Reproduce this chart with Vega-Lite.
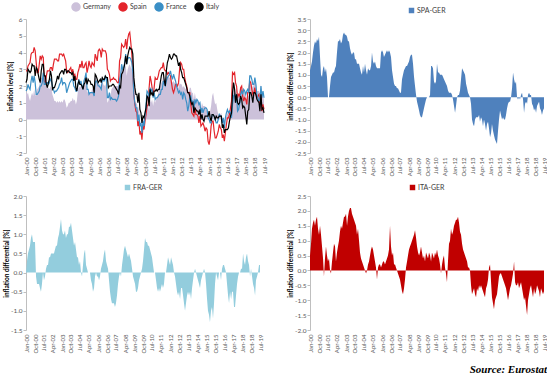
{
"$schema":"https://vega.github.io/schema/vega-lite/v6.json",
"background":"white",
"padding":{"left":3,"top":2,"right":2,"bottom":2},
"title":{"text":"Source: Eurostat","orient":"bottom","anchor":"end","font":"Liberation Serif","fontSize":11,"fontWeight":"bold","fontStyle":"italic","color":"#000000","offset":8},
"columns":2,
"spacing":{"row":5,"column":20},
"resolve":{"scale":{"color":"independent","x":"independent","y":"independent"},"legend":{"color":"independent"}},
"datasets":{"m":[
{"d":"2000-01","g":1.7,"s":2.9,"f":1.7,"i":2.2,"sg":1.2,"fg":0,"ig":0.5},
{"d":"2000-02","g":1.5,"s":2.9,"f":1.8,"i":2.4,"sg":1.4,"fg":0.3,"ig":0.9},
{"d":"2000-03","g":1.6,"s":3.2,"f":2.1,"i":3.0,"sg":1.6,"fg":0.5,"ig":1.4},
{"d":"2000-04","g":1.3,"s":3.3,"f":1.9,"i":2.9,"sg":2.0,"fg":0.6,"ig":1.6},
{"d":"2000-05","g":1.1,"s":3.4,"f":1.8,"i":2.8,"sg":2.3,"fg":0.7,"ig":1.7},
{"d":"2000-06","g":1.4,"s":3.9,"f":2.3,"i":2.9,"sg":2.5,"fg":0.9,"ig":1.5},
{"d":"2000-07","g":1.6,"s":4.0,"f":2.6,"i":3.3,"sg":2.4,"fg":1.0,"ig":1.7},
{"d":"2000-08","g":1.4,"s":4.0,"f":2.2,"i":3.2,"sg":2.6,"fg":0.8,"ig":1.8},
{"d":"2000-09","g":1.8,"s":4.3,"f":2.6,"i":3.2,"sg":2.5,"fg":0.8,"ig":1.4},
{"d":"2000-10","g":1.4,"s":4.1,"f":2.2,"i":2.6,"sg":2.7,"fg":0.8,"ig":1.2},
{"d":"2000-11","g":1.6,"s":3.4,"f":1.5,"i":3.1,"sg":1.8,"fg":-0.1,"ig":1.5},
{"d":"2000-12","g":1.8,"s":2.8,"f":1.5,"i":3.0,"sg":1.0,"fg":-0.3,"ig":1.2},
{"d":"2001-01","g":1.9,"s":2.8,"f":1.6,"i":2.7,"sg":0.9,"fg":-0.3,"ig":0.8},
{"d":"2001-02","g":2.0,"s":3.3,"f":1.7,"i":2.4,"sg":1.3,"fg":-0.3,"ig":0.4},
{"d":"2001-03","g":2.4,"s":3.8,"f":2.0,"i":2.2,"sg":1.4,"fg":-0.4,"ig":-0.2},
{"d":"2001-04","g":2.5,"s":3.6,"f":2.0,"i":2.9,"sg":1.1,"fg":-0.5,"ig":0.4},
{"d":"2001-05","g":2.5,"s":3.8,"f":2.2,"i":3.3,"sg":1.3,"fg":-0.3,"ig":0.8},
{"d":"2001-06","g":2.8,"s":3.7,"f":2.8,"i":3.3,"sg":0.9,"fg":0,"ig":0.5},
{"d":"2001-07","g":2.3,"s":2.3,"f":2.1,"i":2.6,"sg":0,"fg":-0.2,"ig":0.3},
{"d":"2001-08","g":2.2,"s":2.2,"f":2.1,"i":2.6,"sg":0,"fg":-0.1,"ig":0.4},
{"d":"2001-09","g":2.1,"s":2.6,"f":2.2,"i":2.1,"sg":0.5,"fg":0.1,"ig":0},
{"d":"2001-10","g":2.0,"s":2.9,"f":2.2,"i":1.9,"sg":0.9,"fg":0.2,"ig":-0.1},
{"d":"2001-11","g":1.9,"s":2.9,"f":2.1,"i":2.2,"sg":1.0,"fg":0.2,"ig":0.3},
{"d":"2001-12","g":1.8,"s":2.9,"f":2.2,"i":2.4,"sg":1.1,"fg":0.4,"ig":0.6},
{"d":"2002-01","g":2.0,"s":3.1,"f":2.4,"i":2.9,"sg":1.1,"fg":0.4,"ig":0.9},
{"d":"2002-02","g":1.8,"s":3.1,"f":2.3,"i":2.6,"sg":1.3,"fg":0.5,"ig":0.8},
{"d":"2002-03","g":1.5,"s":2.9,"f":2.0,"i":1.8,"sg":1.4,"fg":0.5,"ig":0.3},
{"d":"2002-04","g":1.3,"s":3.3,"f":1.8,"i":1.9,"sg":2.0,"fg":0.5,"ig":0.6},
{"d":"2002-05","g":1.1,"s":3.6,"f":1.6,"i":1.9,"sg":2.5,"fg":0.5,"ig":0.8},
{"d":"2002-06","g":1.1,"s":3.6,"f":1.7,"i":2.1,"sg":2.5,"fg":0.6,"ig":1.0},
{"d":"2002-07","g":1.0,"s":3.6,"f":1.7,"i":2.3,"sg":2.6,"fg":0.7,"ig":1.3},
{"d":"2002-08","g":1.1,"s":3.5,"f":1.8,"i":2.6,"sg":2.4,"fg":0.7,"ig":1.5},
{"d":"2002-09","g":1.0,"s":3.5,"f":1.9,"i":2.4,"sg":2.5,"fg":0.9,"ig":1.4},
{"d":"2002-10","g":1.1,"s":3.9,"f":2.1,"i":2.7,"sg":2.8,"fg":1.0,"ig":1.6},
{"d":"2002-11","g":1.0,"s":3.9,"f":2.2,"i":2.8,"sg":2.9,"fg":1.2,"ig":1.8},
{"d":"2002-12","g":1.1,"s":3.9,"f":2.5,"i":2.9,"sg":2.8,"fg":1.4,"ig":1.8},
{"d":"2003-01","g":1.0,"s":3.8,"f":2.1,"i":2.9,"sg":2.8,"fg":1.1,"ig":1.9},
{"d":"2003-02","g":1.2,"s":3.9,"f":2.2,"i":2.7,"sg":2.7,"fg":1.0,"ig":1.5},
{"d":"2003-03","g":1.2,"s":3.7,"f":2.2,"i":3.0,"sg":2.5,"fg":1.0,"ig":1.8},
{"d":"2003-04","g":1.0,"s":3.5,"f":2.1,"i":3.0,"sg":2.5,"fg":1.1,"ig":2.0},
{"d":"2003-05","g":0.7,"s":2.9,"f":1.6,"i":2.8,"sg":2.2,"fg":0.9,"ig":2.1},
{"d":"2003-06","g":0.8,"s":2.8,"f":1.8,"i":2.9,"sg":2.0,"fg":1.0,"ig":2.1},
{"d":"2003-07","g":1.0,"s":2.9,"f":2.0,"i":2.9,"sg":1.9,"fg":1.0,"ig":1.9},
{"d":"2003-08","g":1.0,"s":3.0,"f":2.2,"i":2.8,"sg":2.0,"fg":1.2,"ig":1.8},
{"d":"2003-09","g":1.1,"s":3.1,"f":2.3,"i":2.8,"sg":2.0,"fg":1.2,"ig":1.7},
{"d":"2003-10","g":1.1,"s":2.8,"f":2.4,"i":2.7,"sg":1.7,"fg":1.3,"ig":1.6},
{"d":"2003-11","g":1.3,"s":3.0,"f":2.4,"i":2.8,"sg":1.7,"fg":1.1,"ig":1.5},
{"d":"2003-12","g":1.1,"s":2.6,"f":2.0,"i":2.3,"sg":1.5,"fg":0.9,"ig":1.2},
{"d":"2004-01","g":1.2,"s":2.7,"f":1.9,"i":2.6,"sg":1.5,"fg":0.7,"ig":1.4},
{"d":"2004-02","g":0.9,"s":2.4,"f":1.7,"i":1.9,"sg":1.5,"fg":0.8,"ig":1.0},
{"d":"2004-03","g":1.1,"s":2.4,"f":1.7,"i":1.7,"sg":1.3,"fg":0.6,"ig":0.6},
{"d":"2004-04","g":1.7,"s":2.8,"f":2.1,"i":2.1,"sg":1.1,"fg":0.4,"ig":0.4},
{"d":"2004-05","g":2.0,"s":3.0,"f":2.4,"i":2.3,"sg":1.0,"fg":0.4,"ig":0.3},
{"d":"2004-06","g":1.9,"s":3.3,"f":2.1,"i":2.1,"sg":1.4,"fg":0.2,"ig":0.2},
{"d":"2004-07","g":2.0,"s":3.1,"f":2.3,"i":2.1,"sg":1.1,"fg":0.3,"ig":0.1},
{"d":"2004-08","g":2.0,"s":3.5,"f":2.0,"i":2.0,"sg":1.5,"fg":0,"ig":0},
{"d":"2004-09","g":1.9,"s":3.1,"f":1.8,"i":1.8,"sg":1.2,"fg":-0.1,"ig":-0.1},
{"d":"2004-10","g":2.1,"s":3.1,"f":2.3,"i":2.1,"sg":1.0,"fg":0.2,"ig":0},
{"d":"2004-11","g":2.0,"s":3.3,"f":2.5,"i":2.2,"sg":1.3,"fg":0.5,"ig":0.2},
{"d":"2004-12","g":2.2,"s":3.4,"f":2.8,"i":2.5,"sg":1.2,"fg":0.6,"ig":0.3},
{"d":"2005-01","g":1.6,"s":2.8,"f":1.8,"i":2.1,"sg":1.2,"fg":0.2,"ig":0.5},
{"d":"2005-02","g":1.7,"s":3.1,"f":1.8,"i":2.4,"sg":1.4,"fg":0.1,"ig":0.7},
{"d":"2005-03","g":1.5,"s":3.5,"f":1.5,"i":2.3,"sg":2.0,"fg":0,"ig":0.8},
{"d":"2005-04","g":1.6,"s":3.2,"f":1.6,"i":2.3,"sg":1.6,"fg":0,"ig":0.7},
{"d":"2005-05","g":1.6,"s":3.1,"f":1.6,"i":2.1,"sg":1.5,"fg":0,"ig":0.5},
{"d":"2005-06","g":1.8,"s":3.4,"f":1.6,"i":2.1,"sg":1.6,"fg":-0.2,"ig":0.3},
{"d":"2005-07","g":1.9,"s":3.3,"f":1.6,"i":2.0,"sg":1.4,"fg":-0.3,"ig":0.1},
{"d":"2005-08","g":1.9,"s":3.2,"f":1.4,"i":1.6,"sg":1.3,"fg":-0.5,"ig":-0.3},
{"d":"2005-09","g":2.6,"s":3.9,"f":2.2,"i":2.7,"sg":1.3,"fg":-0.4,"ig":0.1},
{"d":"2005-10","g":2.4,"s":3.7,"f":2.3,"i":2.6,"sg":1.3,"fg":-0.1,"ig":0.2},
{"d":"2005-11","g":2.2,"s":3.5,"f":2.2,"i":2.4,"sg":1.3,"fg":0,"ig":0.2},
{"d":"2005-12","g":2.1,"s":4.1,"f":2.0,"i":2.2,"sg":2.0,"fg":-0.1,"ig":0.1},
{"d":"2006-01","g":2.1,"s":4.2,"f":2.0,"i":2.3,"sg":2.1,"fg":-0.1,"ig":0.2},
{"d":"2006-02","g":2.1,"s":4.1,"f":1.9,"i":2.4,"sg":2.0,"fg":-0.2,"ig":0.3},
{"d":"2006-03","g":1.9,"s":3.7,"f":1.8,"i":2.2,"sg":1.8,"fg":-0.1,"ig":0.3},
{"d":"2006-04","g":2.3,"s":4.2,"f":2.4,"i":2.5,"sg":1.9,"fg":0.1,"ig":0.2},
{"d":"2006-05","g":2.1,"s":4.1,"f":2.3,"i":2.4,"sg":2.0,"fg":0.2,"ig":0.3},
{"d":"2006-06","g":2.0,"s":4.1,"f":2.3,"i":2.4,"sg":2.1,"fg":0.3,"ig":0.4},
{"d":"2006-07","g":2.1,"s":4.1,"f":2.6,"i":2.6,"sg":2.0,"fg":0.5,"ig":0.5},
{"d":"2006-08","g":1.8,"s":3.9,"f":2.4,"i":2.5,"sg":2.1,"fg":0.6,"ig":0.7},
{"d":"2006-09","g":1.0,"s":3.0,"f":1.3,"i":2.5,"sg":2.0,"fg":0.3,"ig":1.5},
{"d":"2006-10","g":1.1,"s":2.9,"f":1.3,"i":1.9,"sg":1.8,"fg":0.2,"ig":0.8},
{"d":"2006-11","g":1.5,"s":2.7,"f":1.6,"i":2.0,"sg":1.2,"fg":0.1,"ig":0.5},
{"d":"2006-12","g":1.4,"s":2.3,"f":1.2,"i":2.0,"sg":0.9,"fg":-0.2,"ig":0.6},
{"d":"2007-01","g":1.8,"s":2.4,"f":1.3,"i":2.0,"sg":0.6,"fg":-0.5,"ig":0.2},
{"d":"2007-02","g":1.9,"s":2.4,"f":1.2,"i":2.1,"sg":0.5,"fg":-0.7,"ig":0.2},
{"d":"2007-03","g":2.0,"s":2.5,"f":1.2,"i":2.1,"sg":0.5,"fg":-0.8,"ig":0.1},
{"d":"2007-04","g":2.0,"s":2.4,"f":1.2,"i":2.0,"sg":0.4,"fg":-0.8,"ig":0},
{"d":"2007-05","g":2.0,"s":2.4,"f":1.2,"i":1.9,"sg":0.4,"fg":-0.8,"ig":-0.1},
{"d":"2007-06","g":2.0,"s":2.3,"f":1.1,"i":1.8,"sg":0.3,"fg":-0.9,"ig":-0.2},
{"d":"2007-07","g":2.0,"s":2.2,"f":1.2,"i":1.7,"sg":0.2,"fg":-0.8,"ig":-0.3},
{"d":"2007-08","g":2.0,"s":2.2,"f":1.4,"i":1.5,"sg":0.2,"fg":-0.6,"ig":-0.5},
{"d":"2007-09","g":2.7,"s":3.5,"f":2.4,"i":2.0,"sg":0.8,"fg":-0.3,"ig":-0.7},
{"d":"2007-10","g":2.7,"s":3.7,"f":2.6,"i":1.9,"sg":1.0,"fg":-0.1,"ig":-0.8},
{"d":"2007-11","g":3.3,"s":4.5,"f":3.3,"i":2.7,"sg":1.2,"fg":0,"ig":-0.6},
{"d":"2007-12","g":3.1,"s":4.4,"f":3.0,"i":2.8,"sg":1.3,"fg":-0.1,"ig":-0.3},
{"d":"2008-01","g":2.9,"s":4.3,"f":3.1,"i":3.0,"sg":1.4,"fg":0.2,"ig":0.1},
{"d":"2008-02","g":3.0,"s":4.4,"f":3.4,"i":3.3,"sg":1.4,"fg":0.4,"ig":0.3},
{"d":"2008-03","g":3.3,"s":4.8,"f":3.9,"i":3.8,"sg":1.5,"fg":0.6,"ig":0.5},
{"d":"2008-04","g":2.6,"s":4.2,"f":3.3,"i":3.3,"sg":1.6,"fg":0.7,"ig":0.7},
{"d":"2008-05","g":3.0,"s":4.8,"f":3.6,"i":3.8,"sg":1.8,"fg":0.6,"ig":0.8},
{"d":"2008-06","g":3.2,"s":5.1,"f":3.7,"i":4.1,"sg":1.9,"fg":0.5,"ig":0.9},
{"d":"2008-07","g":3.3,"s":5.2,"f":3.7,"i":4.3,"sg":1.9,"fg":0.4,"ig":1.0},
{"d":"2008-08","g":3.1,"s":4.6,"f":3.6,"i":4.2,"sg":1.5,"fg":0.5,"ig":1.1},
{"d":"2008-09","g":3.0,"s":3.9,"f":3.4,"i":4.2,"sg":0.9,"fg":0.4,"ig":1.2},
{"d":"2008-10","g":2.5,"s":3.0,"f":2.8,"i":3.9,"sg":0.5,"fg":0.3,"ig":1.35},
{"d":"2008-11","g":1.4,"s":1.5,"f":1.5,"i":2.5,"sg":0.1,"fg":0.1,"ig":1.1},
{"d":"2008-12","g":1.1,"s":0.9,"f":1.0,"i":1.9,"sg":-0.2,"fg":-0.1,"ig":0.8},
{"d":"2009-01","g":0.9,"s":0.5,"f":0.7,"i":1.5,"sg":-0.4,"fg":-0.2,"ig":0.6},
{"d":"2009-02","g":1.0,"s":0.4,"f":0.7,"i":1.5,"sg":-0.6,"fg":-0.3,"ig":0.5},
{"d":"2009-03","g":0.4,"s":-0.4,"f":-0.1,"i":1.0,"sg":-0.8,"fg":-0.5,"ig":0.6},
{"d":"2009-04","g":0.8,"s":-0.1,"f":0.3,"i":1.6,"sg":-0.9,"fg":-0.5,"ig":0.8},
{"d":"2009-05","g":0,"s":-0.9,"f":-0.4,"i":0.6,"sg":-0.9,"fg":-0.4,"ig":0.6},
{"d":"2009-06","g":0,"s":-0.7,"f":-0.2,"i":0.4,"sg":-0.7,"fg":-0.2,"ig":0.4},
{"d":"2009-07","g":-0.7,"s":-1.2,"f":-0.8,"i":-0.2,"sg":-0.5,"fg":-0.1,"ig":0.5},
{"d":"2009-08","g":-0.1,"s":-0.4,"f":-0.1,"i":0.2,"sg":-0.3,"fg":0,"ig":0.3},
{"d":"2009-09","g":-0.5,"s":-0.6,"f":-0.4,"i":0.1,"sg":-0.1,"fg":0.1,"ig":0.6},
{"d":"2009-10","g":-0.1,"s":-0.1,"f":0.2,"i":0.4,"sg":0,"fg":0.3,"ig":0.5},
{"d":"2009-11","g":0.3,"s":0.3,"f":0.9,"i":0.7,"sg":0,"fg":0.6,"ig":0.4},
{"d":"2009-12","g":0.8,"s":0.8,"f":1.7,"i":1.4,"sg":0,"fg":0.9,"ig":0.6},
{"d":"2010-01","g":0.8,"s":0.9,"f":1.6,"i":1.3,"sg":0.1,"fg":0.8,"ig":0.5},
{"d":"2010-02","g":0.5,"s":1.9,"f":1.3,"i":0.8,"sg":1.4,"fg":0.8,"ig":0.3},
{"d":"2010-03","g":1.2,"s":2.6,"f":1.9,"i":1.8,"sg":1.4,"fg":0.7,"ig":0.6},
{"d":"2010-04","g":1.0,"s":2.3,"f":1.7,"i":1.5,"sg":1.3,"fg":0.7,"ig":0.5},
{"d":"2010-05","g":1.2,"s":1.9,"f":1.8,"i":1.6,"sg":0.7,"fg":0.6,"ig":0.4},
{"d":"2010-06","g":0.8,"s":1.4,"f":1.3,"i":1.4,"sg":0.6,"fg":0.5,"ig":0.6},
{"d":"2010-07","g":1.2,"s":1.9,"f":1.6,"i":1.7,"sg":0.7,"fg":0.4,"ig":0.5},
{"d":"2010-08","g":1.0,"s":2.5,"f":1.2,"i":1.7,"sg":1.5,"fg":0.2,"ig":0.7},
{"d":"2010-09","g":1.3,"s":2.4,"f":1.3,"i":1.8,"sg":1.1,"fg":0,"ig":0.5},
{"d":"2010-10","g":1.3,"s":2.4,"f":1.3,"i":1.7,"sg":1.1,"fg":0,"ig":0.4},
{"d":"2010-11","g":1.6,"s":2.6,"f":1.4,"i":1.8,"sg":1.0,"fg":-0.2,"ig":0.2},
{"d":"2010-12","g":1.9,"s":2.9,"f":1.5,"i":1.8,"sg":1.0,"fg":-0.4,"ig":-0.1},
{"d":"2011-01","g":2.0,"s":3.0,"f":1.5,"i":2.2,"sg":1.0,"fg":-0.5,"ig":0.2},
{"d":"2011-02","g":2.2,"s":3.1,"f":1.8,"i":2.6,"sg":0.9,"fg":-0.4,"ig":0.4},
{"d":"2011-03","g":2.3,"s":3.1,"f":1.8,"i":2.8,"sg":0.8,"fg":-0.5,"ig":0.5},
{"d":"2011-04","g":2.7,"s":3.4,"f":2.3,"i":2.8,"sg":0.7,"fg":-0.4,"ig":0.1},
{"d":"2011-05","g":2.4,"s":3.0,"f":2.1,"i":2.3,"sg":0.6,"fg":-0.3,"ig":-0.1},
{"d":"2011-06","g":2.4,"s":2.9,"f":2.0,"i":2.0,"sg":0.5,"fg":-0.4,"ig":-0.4},
{"d":"2011-07","g":2.6,"s":2.9,"f":2.3,"i":2.9,"sg":0.3,"fg":-0.3,"ig":0.3},
{"d":"2011-08","g":2.5,"s":2.7,"f":2.5,"i":3.4,"sg":0.2,"fg":0,"ig":0.9},
{"d":"2011-09","g":2.6,"s":2.8,"f":2.6,"i":3.6,"sg":0.2,"fg":0,"ig":1.0},
{"d":"2011-10","g":2.5,"s":2.7,"f":2.7,"i":3.9,"sg":0.2,"fg":0.2,"ig":1.4},
{"d":"2011-11","g":2.5,"s":2.6,"f":2.9,"i":3.7,"sg":0.1,"fg":0.4,"ig":1.2},
{"d":"2011-12","g":2.3,"s":2.2,"f":2.6,"i":3.6,"sg":-0.1,"fg":0.3,"ig":1.3},
{"d":"2012-01","g":2.2,"s":1.8,"f":2.4,"i":3.7,"sg":-0.4,"fg":0.2,"ig":1.5},
{"d":"2012-02","g":2.3,"s":1.6,"f":2.7,"i":3.9,"sg":-0.7,"fg":0.4,"ig":1.6},
{"d":"2012-03","g":2.2,"s":1.8,"f":2.5,"i":3.9,"sg":-0.4,"fg":0.3,"ig":1.7},
{"d":"2012-04","g":2.1,"s":2.1,"f":2.3,"i":3.8,"sg":0,"fg":0.2,"ig":1.7},
{"d":"2012-05","g":2.0,"s":2.1,"f":2.0,"i":3.8,"sg":0.1,"fg":0,"ig":1.8},
{"d":"2012-06","g":1.9,"s":2.0,"f":1.8,"i":3.5,"sg":0.1,"fg":-0.1,"ig":1.6},
{"d":"2012-07","g":1.9,"s":2.2,"f":1.6,"i":3.2,"sg":0.3,"fg":-0.3,"ig":1.3},
{"d":"2012-08","g":2.2,"s":3.0,"f":1.7,"i":3.4,"sg":0.8,"fg":-0.5,"ig":1.2},
{"d":"2012-09","g":2.1,"s":3.4,"f":1.5,"i":3.0,"sg":1.3,"fg":-0.6,"ig":0.9},
{"d":"2012-10","g":2.1,"s":3.3,"f":1.6,"i":2.8,"sg":1.2,"fg":-0.5,"ig":0.7},
{"d":"2012-11","g":1.9,"s":3.0,"f":1.2,"i":2.5,"sg":1.1,"fg":-0.7,"ig":0.6},
{"d":"2012-12","g":2.0,"s":3.0,"f":1.6,"i":2.5,"sg":1.0,"fg":-0.4,"ig":0.5},
{"d":"2013-01","g":1.9,"s":2.5,"f":1.5,"i":2.3,"sg":0.6,"fg":-0.4,"ig":0.4},
{"d":"2013-02","g":1.8,"s":2.2,"f":1.2,"i":2.1,"sg":0.4,"fg":-0.6,"ig":0.3},
{"d":"2013-03","g":1.8,"s":2.0,"f":1.0,"i":1.9,"sg":0.2,"fg":-0.8,"ig":0.1},
{"d":"2013-04","g":1.5,"s":1.6,"f":0.5,"i":1.6,"sg":0.1,"fg":-1.0,"ig":0.1},
{"d":"2013-05","g":1.6,"s":1.6,"f":0.8,"i":1.6,"sg":0,"fg":-0.8,"ig":0},
{"d":"2013-06","g":1.9,"s":1.6,"f":1.3,"i":1.4,"sg":-0.3,"fg":-0.6,"ig":-0.5},
{"d":"2013-07","g":1.9,"s":0.9,"f":1.4,"i":1.1,"sg":-1.0,"fg":-0.5,"ig":-0.8},
{"d":"2013-08","g":1.6,"s":0.4,"f":1.0,"i":0.9,"sg":-1.2,"fg":-0.6,"ig":-0.7},
{"d":"2013-09","g":1.6,"s":0.3,"f":1.1,"i":1.0,"sg":-1.3,"fg":-0.5,"ig":-0.6},
{"d":"2013-10","g":1.2,"s":0.2,"f":0.5,"i":0.4,"sg":-1.0,"fg":-0.7,"ig":-0.8},
{"d":"2013-11","g":1.6,"s":0.7,"f":1.2,"i":0.7,"sg":-0.9,"fg":-0.4,"ig":-0.9},
{"d":"2013-12","g":1.2,"s":0.3,"f":1.0,"i":0.6,"sg":-0.9,"fg":-0.2,"ig":-0.6},
{"d":"2014-01","g":1.2,"s":0.3,"f":1.2,"i":0.5,"sg":-0.9,"fg":0,"ig":-0.7},
{"d":"2014-02","g":1.0,"s":0.2,"f":1.1,"i":0.5,"sg":-0.8,"fg":0.1,"ig":-0.5},
{"d":"2014-03","g":0.9,"s":-0.2,"f":0.9,"i":0.3,"sg":-1.1,"fg":0,"ig":-0.6},
{"d":"2014-04","g":1.1,"s":0.2,"f":1.0,"i":0.6,"sg":-0.9,"fg":-0.1,"ig":-0.5},
{"d":"2014-05","g":0.6,"s":-0.4,"f":0.4,"i":0,"sg":-1.0,"fg":-0.2,"ig":-0.6},
{"d":"2014-06","g":1.0,"s":-0.3,"f":0.7,"i":0.3,"sg":-1.3,"fg":-0.3,"ig":-0.7},
{"d":"2014-07","g":0.8,"s":-0.2,"f":0.4,"i":0,"sg":-1.0,"fg":-0.4,"ig":-0.8},
{"d":"2014-08","g":0.8,"s":-0.4,"f":0.6,"i":-0.1,"sg":-1.2,"fg":-0.2,"ig":-0.9},
{"d":"2014-09","g":0.8,"s":-0.7,"f":0.7,"i":0.2,"sg":-1.5,"fg":-0.1,"ig":-0.6},
{"d":"2014-10","g":0.7,"s":-0.5,"f":0.7,"i":0.2,"sg":-1.2,"fg":0,"ig":-0.5},
{"d":"2014-11","g":0.5,"s":-0.6,"f":0.6,"i":0.2,"sg":-1.1,"fg":0.1,"ig":-0.3},
{"d":"2014-12","g":0.1,"s":-1.3,"f":0.1,"i":0.2,"sg":-1.4,"fg":0,"ig":0.1},
{"d":"2015-01","g":0.3,"s":-1.5,"f":0,"i":0.5,"sg":-1.8,"fg":-0.3,"ig":0.2},
{"d":"2015-02","g":0.5,"s":-1.1,"f":-0.2,"i":0.1,"sg":-1.6,"fg":-0.7,"ig":-0.4},
{"d":"2015-03","g":0.8,"s":-0.4,"f":-0.2,"i":-0.1,"sg":-1.2,"fg":-1.0,"ig":-0.9},
{"d":"2015-04","g":1.4,"s":-0.1,"f":0.3,"i":0.3,"sg":-1.5,"fg":-1.1,"ig":-1.1},
{"d":"2015-05","g":1.6,"s":-0.1,"f":0.3,"i":0.3,"sg":-1.7,"fg":-1.3,"ig":-1.3},
{"d":"2015-06","g":1.2,"s":-0.7,"f":0.2,"i":0.2,"sg":-1.9,"fg":-1.0,"ig":-1.0},
{"d":"2015-07","g":0.9,"s":-1.1,"f":0,"i":0,"sg":-2.0,"fg":-0.9,"ig":-0.9},
{"d":"2015-08","g":1.0,"s":-1.1,"f":-0.2,"i":0.2,"sg":-2.1,"fg":-1.2,"ig":-0.8},
{"d":"2015-09","g":0.6,"s":-0.9,"f":-0.2,"i":0.1,"sg":-1.5,"fg":-0.8,"ig":-0.5},
{"d":"2015-10","g":0.3,"s":-0.7,"f":0,"i":0.1,"sg":-1.0,"fg":-0.3,"ig":-0.2},
{"d":"2015-11","g":0.3,"s":-0.3,"f":0.3,"i":0.2,"sg":-0.6,"fg":0,"ig":-0.1},
{"d":"2015-12","g":0.3,"s":-0.5,"f":0.2,"i":0.2,"sg":-0.8,"fg":-0.1,"ig":-0.1},
{"d":"2016-01","g":0.4,"s":-0.6,"f":0.2,"i":0.2,"sg":-1.0,"fg":-0.2,"ig":-0.2},
{"d":"2016-02","g":-0.2,"s":-1.1,"f":-0.2,"i":-0.5,"sg":-0.9,"fg":0,"ig":-0.3},
{"d":"2016-03","g":0.1,"s":-0.9,"f":0.1,"i":-0.3,"sg":-1.0,"fg":0,"ig":-0.4},
{"d":"2016-04","g":-0.3,"s":-1.3,"f":-0.5,"i":-0.8,"sg":-1.0,"fg":-0.2,"ig":-0.5},
{"d":"2016-05","g":0,"s":-0.8,"f":0.1,"i":-0.6,"sg":-0.8,"fg":0.1,"ig":-0.6},
{"d":"2016-06","g":0.2,"s":-0.3,"f":0.4,"i":-0.6,"sg":-0.5,"fg":0.2,"ig":-0.8},
{"d":"2016-07","g":0.4,"s":0.1,"f":0.6,"i":-0.6,"sg":-0.3,"fg":0.2,"ig":-1.0},
{"d":"2016-08","g":0.3,"s":0.1,"f":0.4,"i":-0.5,"sg":-0.2,"fg":0.1,"ig":-0.8},
{"d":"2016-09","g":0.5,"s":0.3,"f":0.5,"i":-0.1,"sg":-0.2,"fg":0,"ig":-0.6},
{"d":"2016-10","g":0.7,"s":0.7,"f":0.4,"i":0.2,"sg":0,"fg":-0.3,"ig":-0.5},
{"d":"2016-11","g":0.7,"s":1.1,"f":0.1,"i":0.4,"sg":0.4,"fg":-0.6,"ig":-0.3},
{"d":"2016-12","g":1.7,"s":2.8,"f":0.9,"i":1.6,"sg":1.1,"fg":-0.8,"ig":-0.1},
{"d":"2017-01","g":1.9,"s":2.7,"f":1.4,"i":2.2,"sg":0.8,"fg":-0.5,"ig":0.3},
{"d":"2017-02","g":2.2,"s":2.8,"f":1.5,"i":1.8,"sg":0.6,"fg":-0.7,"ig":-0.4},
{"d":"2017-03","g":1.5,"s":2.2,"f":1.0,"i":1.0,"sg":0.7,"fg":-0.5,"ig":-0.5},
{"d":"2017-04","g":2.0,"s":2.0,"f":1.5,"i":1.5,"sg":0,"fg":-0.5,"ig":-0.5},
{"d":"2017-05","g":1.4,"s":1.3,"f":0.5,"i":1.0,"sg":-0.1,"fg":-0.9,"ig":-0.4},
{"d":"2017-06","g":1.5,"s":1.5,"f":0.6,"i":0.9,"sg":0,"fg":-0.9,"ig":-0.6},
{"d":"2017-07","g":1.5,"s":1.4,"f":0.9,"i":1.0,"sg":-0.1,"fg":-0.6,"ig":-0.5},
{"d":"2017-08","g":1.8,"s":1.9,"f":1.5,"i":1.4,"sg":0.1,"fg":-0.3,"ig":-0.4},
{"d":"2017-09","g":1.8,"s":2.0,"f":1.7,"i":1.2,"sg":0.2,"fg":-0.1,"ig":-0.6},
{"d":"2017-10","g":1.5,"s":1.4,"f":1.5,"i":0.7,"sg":-0.1,"fg":0,"ig":-0.8},
{"d":"2017-11","g":1.8,"s":1.1,"f":1.8,"i":0.8,"sg":-0.7,"fg":0,"ig":-1.0},
{"d":"2017-12","g":1.6,"s":1.3,"f":1.7,"i":0.7,"sg":-0.3,"fg":0.1,"ig":-0.9},
{"d":"2018-01","g":1.4,"s":1.2,"f":1.5,"i":0.2,"sg":-0.2,"fg":0.1,"ig":-1.2},
{"d":"2018-02","g":1.2,"s":0.9,"f":1.7,"i":-0.3,"sg":-0.3,"fg":0.5,"ig":-1.5},
{"d":"2018-03","g":1.5,"s":1.6,"f":1.8,"i":0.5,"sg":0.1,"fg":0.3,"ig":-1.0},
{"d":"2018-04","g":1.4,"s":1.6,"f":1.6,"i":0.6,"sg":0.2,"fg":0.2,"ig":-0.8},
{"d":"2018-05","g":2.2,"s":2.3,"f":2.6,"i":1.6,"sg":0.1,"fg":0.4,"ig":-0.6},
{"d":"2018-06","g":2.1,"s":2.2,"f":2.6,"i":1.6,"sg":0.1,"fg":0.5,"ig":-0.5},
{"d":"2018-07","g":2.1,"s":1.8,"f":2.4,"i":1.4,"sg":-0.3,"fg":0.3,"ig":-0.7},
{"d":"2018-08","g":1.9,"s":1.5,"f":2.1,"i":1.0,"sg":-0.4,"fg":0.2,"ig":-0.9},
{"d":"2018-09","g":2.2,"s":1.6,"f":2.1,"i":1.6,"sg":-0.6,"fg":-0.1,"ig":-0.6},
{"d":"2018-10","g":2.4,"s":1.9,"f":2.5,"i":1.6,"sg":-0.5,"fg":0.1,"ig":-0.8},
{"d":"2018-11","g":2.2,"s":1.5,"f":2.1,"i":1.5,"sg":-0.7,"fg":-0.1,"ig":-0.7},
{"d":"2018-12","g":1.7,"s":1.3,"f":1.4,"i":1.2,"sg":-0.4,"fg":-0.3,"ig":-0.5},
{"d":"2019-01","g":1.7,"s":1.4,"f":1.3,"i":1.1,"sg":-0.3,"fg":-0.4,"ig":-0.6},
{"d":"2019-02","g":1.7,"s":1.5,"f":1.1,"i":1.0,"sg":-0.2,"fg":-0.6,"ig":-0.7},
{"d":"2019-03","g":1.4,"s":0.9,"f":1.2,"i":0.5,"sg":-0.5,"fg":-0.2,"ig":-0.9},
{"d":"2019-04","g":2.1,"s":1.5,"f":2.0,"i":1.5,"sg":-0.6,"fg":-0.1,"ig":-0.6},
{"d":"2019-05","g":1.3,"s":0.5,"f":1.3,"i":0.6,"sg":-0.8,"fg":0,"ig":-0.7},
{"d":"2019-06","g":1.5,"s":0.9,"f":1.7,"i":0.7,"sg":-0.6,"fg":0.2,"ig":-0.8},
{"d":"2019-07","g":1.1,"s":0.6,"f":1.3,"i":0.4,"sg":-0.5,"fg":0.2,"ig":-0.7}
]},
"concat":[
{"width":238,"height":134,"data":{"name":"m"},
 "encoding":{"x":{"field":"d","type":"temporal","scale":{"type":"utc","domain":[{"year":2000,"month":1,"date":1,"utc":true},{"year":2019,"month":7,"date":1,"utc":true}]},
  "axis":{"title":null,"labelExpr":"utcFormat(datum.value, '%b-%y')","labelFlush":false,"labelOverlap":false,"values":[{"year":2000,"month":1,"utc":true},{"year":2000,"month":10,"utc":true},{"year":2001,"month":7,"utc":true},{"year":2002,"month":4,"utc":true},{"year":2003,"month":1,"utc":true},{"year":2003,"month":10,"utc":true},{"year":2004,"month":7,"utc":true},{"year":2005,"month":4,"utc":true},{"year":2006,"month":1,"utc":true},{"year":2006,"month":10,"utc":true},{"year":2007,"month":7,"utc":true},{"year":2008,"month":4,"utc":true},{"year":2009,"month":1,"utc":true},{"year":2009,"month":10,"utc":true},{"year":2010,"month":7,"utc":true},{"year":2011,"month":4,"utc":true},{"year":2012,"month":1,"utc":true},{"year":2012,"month":10,"utc":true},{"year":2013,"month":7,"utc":true},{"year":2014,"month":4,"utc":true},{"year":2015,"month":1,"utc":true},{"year":2015,"month":10,"utc":true},{"year":2016,"month":7,"utc":true},{"year":2017,"month":4,"utc":true},{"year":2018,"month":1,"utc":true},{"year":2018,"month":10,"utc":true},{"year":2019,"month":7,"utc":true}]}}},
 "layer":[
  {"mark":{"type":"area","opacity":1},"encoding":{
    "y":{"field":"g","type":"quantitative","stack":null,"scale":{"domain":[-2,6],"nice":false,"zero":false},"axis":{"title":"inflation level [%]","tickCount":8,"format":"d","labelExpr":"replace(datum.label, '−', '-')","labelOverlap":false,"labelBound":false,"minExtent":11,"maxExtent":11}},
    "color":{"datum":"Germany","scale":{"domain":["Germany","Spain","France","Italy"],"range":["#ccc1da","#e3242b","#3a8fc6","#000000"]},
      "legend":{"symbolSize":64,"columnPadding":5,"labelOffset":2,"encode":{"symbols":{"update":{"shape":{"signal":"datum.value === 'Germany' ? 'square' : 'stroke'"},"fill":{"signal":"datum.value === 'Germany' ? '#ccc1da' : 'transparent'"},"stroke":{"signal":"datum.value === 'Germany' ? 'transparent' : datum.value === 'Spain' ? '#e3242b' : datum.value === 'France' ? '#3a8fc6' : '#000000'"},"size":{"signal":"datum.value === 'Germany' ? 36 : 100"},"strokeWidth":{"value":1.6},"opacity":{"value":1}}}}}}}},
  {"mark":{"type":"rule","color":"#d0d0d0","strokeWidth":1},"encoding":{"y":{"datum":0}}},
  {"mark":{"type":"line","strokeWidth":1.2},"encoding":{"y":{"field":"s","type":"quantitative"},"color":{"datum":"Spain"}}},
  {"mark":{"type":"line","strokeWidth":1.2},"encoding":{"y":{"field":"f","type":"quantitative"},"color":{"datum":"France"}}},
  {"mark":{"type":"line","strokeWidth":1.2},"encoding":{"y":{"field":"i","type":"quantitative"},"color":{"datum":"Italy"}}}
 ]},
{"width":234,"height":134,"data":{"name":"m"},
 "encoding":{"x":{"field":"d","type":"temporal","scale":{"type":"utc","domain":[{"year":2000,"month":1,"date":1,"utc":true},{"year":2019,"month":7,"date":1,"utc":true}]},
  "axis":{"title":null,"labelExpr":"utcFormat(datum.value, '%b-%y')","labelFlush":false,"labelOverlap":false,"values":[{"year":2000,"month":1,"utc":true},{"year":2000,"month":10,"utc":true},{"year":2001,"month":7,"utc":true},{"year":2002,"month":4,"utc":true},{"year":2003,"month":1,"utc":true},{"year":2003,"month":10,"utc":true},{"year":2004,"month":7,"utc":true},{"year":2005,"month":4,"utc":true},{"year":2006,"month":1,"utc":true},{"year":2006,"month":10,"utc":true},{"year":2007,"month":7,"utc":true},{"year":2008,"month":4,"utc":true},{"year":2009,"month":1,"utc":true},{"year":2009,"month":10,"utc":true},{"year":2010,"month":7,"utc":true},{"year":2011,"month":4,"utc":true},{"year":2012,"month":1,"utc":true},{"year":2012,"month":10,"utc":true},{"year":2013,"month":7,"utc":true},{"year":2014,"month":4,"utc":true},{"year":2015,"month":1,"utc":true},{"year":2015,"month":10,"utc":true},{"year":2016,"month":7,"utc":true},{"year":2017,"month":4,"utc":true},{"year":2018,"month":1,"utc":true},{"year":2018,"month":10,"utc":true},{"year":2019,"month":7,"utc":true}]}}},
 "layer":[
  {"mark":{"type":"area","opacity":1},"encoding":{
    "y":{"field":"sg","type":"quantitative","stack":null,"scale":{"domain":[-2.5,3.5],"nice":false,"zero":false},"axis":{"title":"inflation differential [%]","tickCount":12,"format":".1f","labelExpr":"replace(datum.label, '−', '-')","labelOverlap":false,"labelBound":false,"minExtent":15,"maxExtent":15}},
    "color":{"datum":"SPA-GER","scale":{"range":["#4f81bd"]},"legend":{"symbolType":"square","symbolSize":30,"labelOffset":2}}}},
  {"mark":{"type":"rule","color":"#d0d0d0","strokeWidth":1},"encoding":{"y":{"datum":0}}}
 ]},
{"width":234,"height":134,"data":{"name":"m"},
 "encoding":{"x":{"field":"d","type":"temporal","scale":{"type":"utc","domain":[{"year":2000,"month":1,"date":1,"utc":true},{"year":2019,"month":7,"date":1,"utc":true}]},
  "axis":{"title":null,"labelExpr":"utcFormat(datum.value, '%b-%y')","labelFlush":false,"labelOverlap":false,"values":[{"year":2000,"month":1,"utc":true},{"year":2000,"month":10,"utc":true},{"year":2001,"month":7,"utc":true},{"year":2002,"month":4,"utc":true},{"year":2003,"month":1,"utc":true},{"year":2003,"month":10,"utc":true},{"year":2004,"month":7,"utc":true},{"year":2005,"month":4,"utc":true},{"year":2006,"month":1,"utc":true},{"year":2006,"month":10,"utc":true},{"year":2007,"month":7,"utc":true},{"year":2008,"month":4,"utc":true},{"year":2009,"month":1,"utc":true},{"year":2009,"month":10,"utc":true},{"year":2010,"month":7,"utc":true},{"year":2011,"month":4,"utc":true},{"year":2012,"month":1,"utc":true},{"year":2012,"month":10,"utc":true},{"year":2013,"month":7,"utc":true},{"year":2014,"month":4,"utc":true},{"year":2015,"month":1,"utc":true},{"year":2015,"month":10,"utc":true},{"year":2016,"month":7,"utc":true},{"year":2017,"month":4,"utc":true},{"year":2018,"month":1,"utc":true},{"year":2018,"month":10,"utc":true},{"year":2019,"month":7,"utc":true}]}}},
 "layer":[
  {"mark":{"type":"area","opacity":1},"encoding":{
    "y":{"field":"fg","type":"quantitative","stack":null,"scale":{"domain":[-1.5,2],"nice":false,"zero":false},"axis":{"title":"inflation differential [%]","tickCount":8,"format":".1f","labelExpr":"replace(datum.label, '−', '-')","labelOverlap":false,"labelBound":false,"minExtent":15,"maxExtent":15}},
    "color":{"datum":"FRA-GER","scale":{"range":["#93cddd"]},"legend":{"symbolType":"square","symbolSize":30,"labelOffset":2}}}},
  {"mark":{"type":"rule","color":"#d0d0d0","strokeWidth":1},"encoding":{"y":{"datum":0}}}
 ]},
{"width":234,"height":134,"data":{"name":"m"},
 "encoding":{"x":{"field":"d","type":"temporal","scale":{"type":"utc","domain":[{"year":2000,"month":1,"date":1,"utc":true},{"year":2019,"month":7,"date":1,"utc":true}]},
  "axis":{"title":null,"labelExpr":"utcFormat(datum.value, '%b-%y')","labelFlush":false,"labelOverlap":false,"values":[{"year":2000,"month":1,"utc":true},{"year":2000,"month":10,"utc":true},{"year":2001,"month":7,"utc":true},{"year":2002,"month":4,"utc":true},{"year":2003,"month":1,"utc":true},{"year":2003,"month":10,"utc":true},{"year":2004,"month":7,"utc":true},{"year":2005,"month":4,"utc":true},{"year":2006,"month":1,"utc":true},{"year":2006,"month":10,"utc":true},{"year":2007,"month":7,"utc":true},{"year":2008,"month":4,"utc":true},{"year":2009,"month":1,"utc":true},{"year":2009,"month":10,"utc":true},{"year":2010,"month":7,"utc":true},{"year":2011,"month":4,"utc":true},{"year":2012,"month":1,"utc":true},{"year":2012,"month":10,"utc":true},{"year":2013,"month":7,"utc":true},{"year":2014,"month":4,"utc":true},{"year":2015,"month":1,"utc":true},{"year":2015,"month":10,"utc":true},{"year":2016,"month":7,"utc":true},{"year":2017,"month":4,"utc":true},{"year":2018,"month":1,"utc":true},{"year":2018,"month":10,"utc":true},{"year":2019,"month":7,"utc":true}]}}},
 "layer":[
  {"mark":{"type":"area","opacity":1},"encoding":{
    "y":{"field":"ig","type":"quantitative","stack":null,"scale":{"domain":[-2,2.5],"nice":false,"zero":false},"axis":{"title":"inflation differential [%]","tickCount":9,"format":".1f","labelExpr":"replace(datum.label, '−', '-')","labelOverlap":false,"labelBound":false,"minExtent":15,"maxExtent":15}},
    "color":{"datum":"ITA-GER","scale":{"range":["#c00000"]},"legend":{"symbolType":"square","symbolSize":30,"labelOffset":2}}}},
  {"mark":{"type":"rule","color":"#e8b0b0","strokeWidth":1},"encoding":{"y":{"datum":0}}}
 ]}
],
"config":{
 "font":"Lato",
 "view":{"stroke":null},
 "axis":{"labelFont":"Lato","labelFontSize":6.5,"labelColor":"#595959","titleFont":"Lato","titleFontSize":6.5,"titleFontWeight":"bold","titleColor":"#000000","domainColor":"#bfbfbf","tickColor":"#bfbfbf","grid":false},
 "axisX":{"domain":false,"ticks":false,"labelAngle":-90,"labelPadding":4,"labelFontSize":6,"minExtent":26,"maxExtent":26},
 "axisY":{"tickSize":3,"labelPadding":1,"titlePadding":2},
 "legend":{"orient":"top","offset":5,"padding":0,"labelFont":"Lato","labelFontSize":7,"labelColor":"#404040","title":null,"layout":{"top":{"anchor":"middle"}}}
}
}
